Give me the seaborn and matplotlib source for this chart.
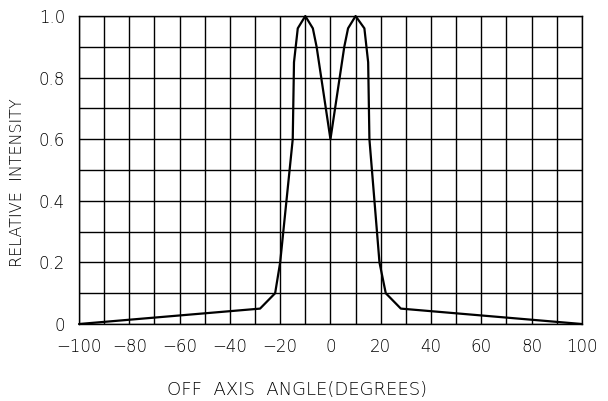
import matplotlib
matplotlib.use("Agg")
import matplotlib.pyplot as plt
import numpy as np
import pandas as pd
import seaborn as sns

# beam pattern (piecewise linear)
angle = [-100, -28, -22, -20, -15, -14.5, -13, -10, -7, -5.5, 0,
         5.5, 7, 10, 13.5, 15, 15.5, 19.5, 22, 28, 100]
intensity = [0.0, 0.05, 0.10, 0.20, 0.60, 0.85, 0.96, 1.0, 0.96, 0.90, 0.60,
             0.90, 0.96, 1.0, 0.96, 0.85, 0.60, 0.20, 0.10, 0.05, 0.0]

x_ticks = [-100, -80, -60, -40, -20, 0, 20, 40, 60, 80, 100]
x_labels = ["\u2212100", "\u221280", "\u221260", "\u221240", "\u221220",
            "0", "20", "40", "60", "80", "100"]
y_ticks = [0, 0.2, 0.4, 0.6, 0.8, 1.0]
y_labels = ["0", "0.2", "0.4", "0.6", "0.8", "1.0"]

df = pd.DataFrame({"angle": angle, "intensity": intensity})

sns.set_style("white")
plt.rcParams['font.family'] = ['DejaVu Sans']
plt.rcParams['text.color'] = 'black'
plt.rcParams['axes.labelcolor'] = 'black'

fig = plt.figure(figsize=(6.08, 4.01), dpi=100)
ax = fig.add_axes([0.130, 0.192, 0.827, 0.768])

sns.lineplot(data=df, x="angle", y="intensity", ax=ax, color="black",
             linewidth=1.6, sort=False, clip_on=False, zorder=3)

ax.set_xlim(-100, 100)
ax.set_ylim(0, 1.0)

# grid every 10 deg / 0.1
ax.set_xticks(np.arange(-100, 101, 10), minor=True)
ax.set_yticks(np.arange(0, 1.01, 0.1), minor=True)
ax.grid(True, which="both", color="black", linewidth=1.0)
ax.set_axisbelow(True)

ax.set_xticks(x_ticks)
ax.set_xticklabels(x_labels)
ax.set_yticks(y_ticks)
ax.set_yticklabels(y_labels)
ax.tick_params(which="both", length=0, pad=10, labelsize=12,
               colors="black", labelcolor="black")
for lab in ax.get_xticklabels() + ax.get_yticklabels():
    lab.set_fontweight("light")
    lab.set_color("black")

for sp in ax.spines.values():
    sp.set_color("black")
    sp.set_linewidth(1.0)

ax.set_xlabel("OFF  AXIS  ANGLE(DEGREES)", fontsize=13, fontweight="light",
              color="black")
ax.set_ylabel("RELATIVE  INTENSITY", fontsize=11.5, fontweight="light",
              color="black")
ax.xaxis.set_label_coords(0.433, -0.214)
ax.yaxis.set_label_coords(-0.123, 0.458)
ax.xaxis.label.set_va("center")
ax.yaxis.label.set_va("center")

fig.savefig("out.png", dpi=100)
